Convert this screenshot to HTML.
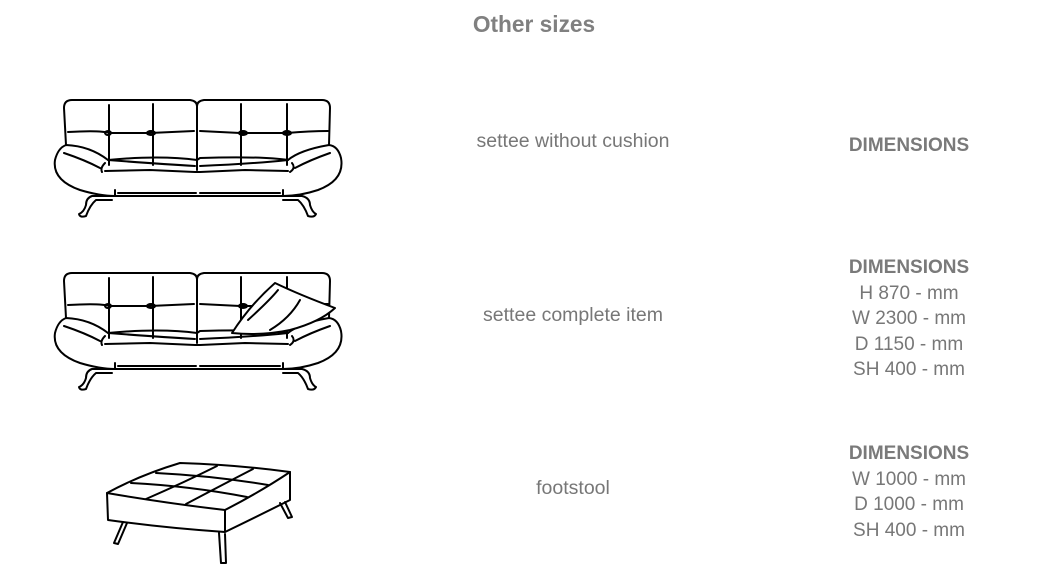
<!DOCTYPE html>
<html><head><style>
body{margin:0;width:1039px;height:581px;background:#fff;position:relative;overflow:hidden;font-family:"Liberation Sans",sans-serif;color:#7a7a7a}
.t{position:absolute;white-space:nowrap;transform:translateX(-50%)}
.title{left:534px;top:11px;font-size:22.7px;font-weight:bold;color:#808080}
.lbl{left:573px;font-size:19.5px;color:#777}
.dim{left:909px;font-size:19px;line-height:25.5px;text-align:center;color:#777}
.dim b{color:#7a7a7a}
svg{position:absolute;left:0;top:0}
</style></head><body>
<div class="t title">Other sizes</div>
<div class="t lbl" style="top:130px">settee without cushion</div>
<div class="t lbl" style="top:304px">settee complete item</div>
<div class="t lbl" style="top:477px">footstool</div>
<div class="t dim" style="top:133px"><b>DIMENSIONS</b></div>
<div class="t dim" style="top:255px"><b>DIMENSIONS</b><br>H 870 - mm<br>W 2300 - mm<br>D 1150 - mm<br>SH 400 - mm</div>
<div class="t dim" style="top:441px"><b>DIMENSIONS</b><br>W 1000 - mm<br>D 1000 - mm<br>SH 400 - mm</div>
<svg width="1039" height="581" fill="none" stroke="#000" stroke-width="2" stroke-linecap="round" stroke-linejoin="round">
<defs>
<g id="sofa">
<path d="M66,145 L64,108 Q64,100 72,100 L190,100 Q197,101 197,106 Q197,101 204,100 L322,100 Q330,100 330,108 L329,145"/>
<path d="M197,106 L197,170"/>
<path d="M68,132 Q100,130 110,133 L150,133 L194,131 M200,131 L240,133 L287,133 Q310,131 328,131"/>
<path d="M109,105 L109,165 M153,104 L153,165 M241,104 L241,165 M287,104 L287,165"/>
<ellipse cx="108" cy="133" rx="3" ry="2"/><ellipse cx="151" cy="133" rx="4" ry="2"/><ellipse cx="243" cy="133" rx="4" ry="2"/><ellipse cx="287" cy="133" rx="4" ry="2"/>
<path d="M66,145 Q58,148 55,160 Q52,180 80,190 Q100,196 115,196 L283,196 Q300,196 318,190 Q345,180 341,158 Q338,146 329,145 Q300,150 288,160 Q260,156 200,158 L197,160 Q160,155 108,160 Q90,146 66,145 Z"/>
<path d="M64,153 Q85,160 100,168 M105,163 Q100,168 102,172 M108,160 Q160,164 195,166 M200,166 Q250,164 288,160 M292,163 Q296,168 290,172 M330,153 Q310,160 295,168"/>
<path d="M105,171 L150,170 L195,172 L200,172 L245,170 L288,171"/>
<path d="M115,190 L115,196 M283,190 L283,196 M118,193 L196,193 M200,193 L280,193"/>
<path d="M112,196 L92,196 Q86,198 86,205 Q84,212 79,214 Q80,218 86,216 Q90,205 96,200 L112,200"/>
<path d="M283,196 L302,196 Q310,198 310,205 Q312,212 316,214 Q314,218 308,216 Q304,205 298,200 L283,200"/>
</g>
</defs>
<use href="#sofa"/>
<use href="#sofa" transform="translate(0,173)"/>
<path d="M232,333 Q250,305 275,283 Q300,295 335,308 Q320,322 290,330 Q262,336 232,333 Z" fill="#fff"/>
<path d="M248,320 Q270,300 278,290 M300,300 Q290,318 270,330"/>
<path d="M107,493 Q140,475 180,463 Q240,465 290,472 Q260,492 225,510 Q165,503 107,493 Z"/>
<path d="M107,493 L108,520 Q165,528 225,532 L225,510 M225,532 Q260,515 290,500 L290,472"/>
<path d="M131,483 Q190,486 247,497 M156,473 Q215,476 268,485"/>
<path d="M146,499 Q185,482 217,466 M186,504 Q222,485 253,469"/>
<path d="M123,522 L114,543 L118,544 L127,523 M219,533 L221,563 L226,563 L225,534 M280,503 L288,518 L292,517 L285,502"/>
</svg>
</body></html>
